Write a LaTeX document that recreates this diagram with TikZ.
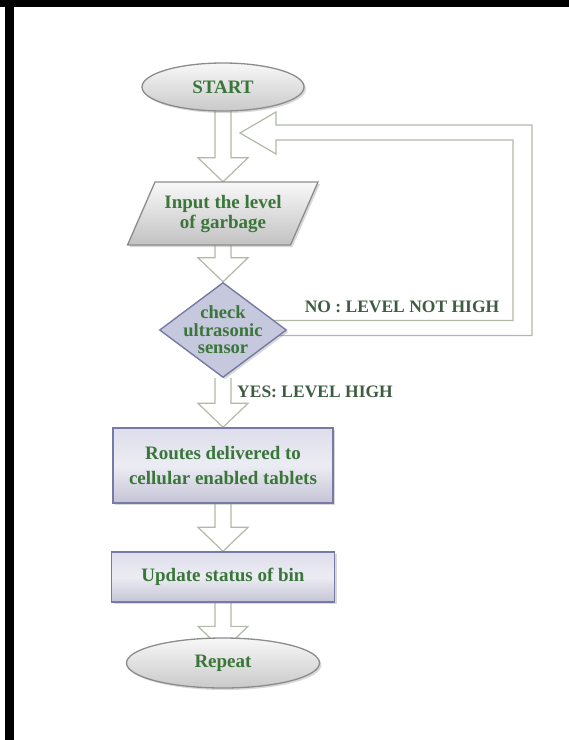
\documentclass[tikz,border=0pt]{standalone}
\usepackage{fontspec}
\setmainfont{Liberation Serif}
\usetikzlibrary{shapes.geometric,shadows,calc,backgrounds}
\definecolor{txt}{RGB}{58,118,58}
\definecolor{lbl}{RGB}{62,92,66}
\definecolor{arr}{RGB}{176,186,166}
\definecolor{greyedge}{RGB}{140,140,140}
\definecolor{blueedge}{RGB}{118,122,165}
\definecolor{lav}{RGB}{198,200,222}
\definecolor{boxtop}{RGB}{222,222,236}
\definecolor{boxmid}{RGB}{236,236,244}
\definecolor{boxbot}{RGB}{196,196,214}
\newcommand\blockdown[2]{%
  \draw[blk] ($(#1)+(-8,0)$) -- ($(#2)+(-8,-24)$) -- ($(#2)+(-25,-24)$) -- (#2)
    -- ($(#2)+(25,-24)$) -- ($(#2)+(8,-24)$) -- ($(#1)+(8,0)$);}
\begin{document}
\begin{tikzpicture}[x=1pt,y=-1pt,
  every node/.style={text=txt, align=center},
  shadowed/.style={drop shadow={opacity=0.3,shadow xshift=2pt,shadow yshift=-2pt}},
  term/.style={ellipse, draw=greyedge, line width=1.3pt, top color=gray!6, bottom color=gray!42,
    inner sep=0pt, shadowed, font=\bfseries\fontsize{19}{24}\selectfont},
  procbox/.style={rectangle, draw=blueedge, line width=1.4pt, top color=boxtop, bottom color=boxbot,
    middle color=boxmid, inner sep=0pt, shadowed},
  decision/.style={diamond, draw=blueedge, line width=1.4pt, fill=lav, inner sep=0pt, shadowed},
  para/.style={draw=greyedge, line width=1.3pt, top color=gray!5, bottom color=gray!48, shadowed},
  body/.style={font=\bfseries\fontsize{19}{25}\selectfont},
  lab/.style={text=lbl, font=\bfseries\fontsize{17.5}{22}\selectfont},
  blk/.style={draw=arr, line width=1.2pt, fill=white, line join=miter}
]
\useasboundingbox (0,0) rectangle (569,740);
% frame
\fill[black] (0,0) rectangle (569,7);
\fill[black] (5,0) rectangle (14,740);

% nodes
\node[term, minimum width=162pt, minimum height=48pt] (start) at (223,87) {START};
\path[para] (155,182) -- (318,182) -- (290.5,245) -- (127.5,245) -- cycle;
\node[font=\bfseries\fontsize{19}{20}\selectfont, minimum width=163pt, minimum height=63pt, inner sep=0pt] (input) at (223,213.5) {Input the level\\of garbage};
\node[decision, minimum width=127pt, minimum height=95pt] (check) at (223,330) {};
\node[font=\bfseries\fontsize{18.5}{17.5}\selectfont] (checktxt) at (223,330) {check\\ultrasonic\\sensor};
\node[procbox, body, minimum width=220pt, minimum height=75pt] (routes) at (223,465.5) {Routes delivered to\\cellular enabled tablets};
\node[procbox, body, minimum width=223pt, minimum height=50pt] (update) at (223,577) {Update status of bin};
\node[term, minimum width=193pt, minimum height=50pt] (repeat) at (223,663) {Repeat};

% labels
\node[lab] (no) at (402,307) {NO : LEVEL NOT HIGH};
\node[lab] (yes) at (315,392) {YES: LEVEL HIGH};

% connectors
\coordinate (loopapex) at (240,133);
\coordinate (repin) at ($(repeat.north)+(0,13)$);
\begin{scope}[on background layer]
  \blockdown{start.south}{input.north}
  \blockdown{input.south}{check.north}
  \blockdown{check.south}{routes.north}
  \blockdown{routes.south}{update.north}
  \blockdown{update.south}{repin}
  \draw[blk] ($(check.east)+(-20,5.5)$) -- (532,335.5) -- (532,125) -- (276,125) -- (276,112)
    -- (loopapex) -- (276,154) -- (276,140) -- (513,140) -- (513,320.5) -- ($(check.east)+(-20,-9.5)$);
\end{scope}
\end{tikzpicture}
\end{document}
